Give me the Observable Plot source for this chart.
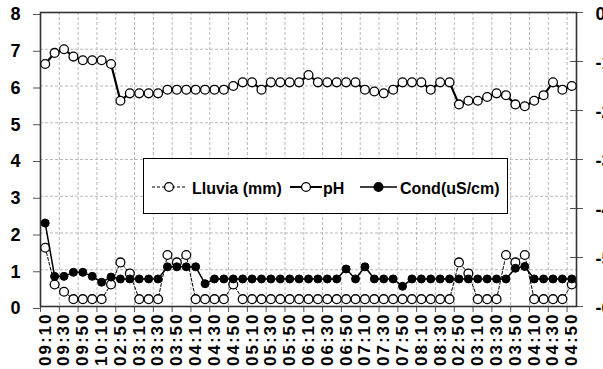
<!DOCTYPE html>
<html>
<head>
<meta charset="utf-8">
<script src="https://cdn.jsdelivr.net/npm/d3@7"></script>
<script src="https://cdn.jsdelivr.net/npm/@observablehq/plot@0.6"></script>
<style>
  html, body { margin: 0; padding: 0; background: #fff; }
  #chart { position: relative; width: 603px; height: 369px; overflow: hidden; }
  #chart svg { display: block; }
  #legend { position: absolute; left: 143px; top: 158px; }
</style>
</head>
<body>
<div id="chart"></div>
<script>
// Sampling times (10-minute readings, two separate rain events)
const times = ["09:10","09:20","09:30","09:40","09:50","10:00","10:10","10:20",
  "02:50","03:00","03:10","03:20","03:30","03:40","03:50","04:00","04:10","04:20",
  "04:30","04:40","04:50","05:00","05:10","05:20","05:30","05:40","05:50","06:00",
  "06:10","06:20","06:30","06:40","06:50","07:00","07:10","07:20","07:30","07:40",
  "07:50","08:00","08:10","08:20","08:30","08:40",
  "02:50","03:00","03:10","03:20","03:30","03:40","03:50","04:00","04:10","04:20",
  "04:30","04:40","04:50"];

// Rainfall (mm)
const lluvia = [1.6,0.6,0.4,0.2,0.2,0.2,0.2,0.6,1.2,0.9,0.2,0.2,0.2,1.4,1.2,1.4,0.2,0.2,
  0.2,0.2,0.6,0.2,0.2,0.2,0.2,0.2,0.2,0.2,0.2,0.2,0.2,0.2,0.2,0.2,0.2,0.2,0.2,0.2,
  0.2,0.2,0.2,0.2,0.2,0.2,1.2,0.9,0.2,0.2,0.2,1.4,1.2,1.4,0.2,0.2,0.2,0.2,0.6];

// pH
const ph = [6.6,6.9,7.0,6.8,6.7,6.7,6.7,6.6,5.6,5.8,5.8,5.8,5.8,5.9,5.9,5.9,5.9,5.9,
  5.9,5.9,6.0,6.1,6.1,5.9,6.1,6.1,6.1,6.1,6.3,6.1,6.1,6.1,6.1,6.1,5.9,5.85,5.8,5.9,
  6.1,6.1,6.1,5.9,6.1,6.1,5.5,5.6,5.6,5.7,5.8,5.75,5.5,5.45,5.6,5.75,6.1,5.9,6.0];

// Conductivity (uS/cm)
const cond = [2.27,0.82,0.82,0.93,0.93,0.82,0.66,0.8,0.75,0.75,0.75,0.75,0.75,1.08,1.08,
  1.08,1.08,0.62,0.75,0.75,0.75,0.75,0.75,0.75,0.75,0.75,0.75,0.75,0.75,0.75,0.75,0.75,
  1.02,0.75,1.08,0.75,0.75,0.75,0.55,0.75,0.75,0.75,0.75,0.75,0.75,0.75,0.75,0.75,0.75,
  0.75,1.04,1.09,0.75,0.75,0.75,0.75,0.75];

// Axis tick values
const yTicks = [0,1,2,3,4,5,6,7,8];
const rightTicks = [0,-1,-2,-3,-4,-5,-6];

const rows = times.map((t, i) => ({i, t, lluvia: lluvia[i], ph: ph[i], cond: cond[i]}));
const n = times.length;

// Category boundaries every two readings, labels on every other reading
const boundaries = d3.range(-0.5, n - 0.5, 2);
const labelIdx = d3.range(0, n, 2);

// Secondary (right) axis spans the same frame: 0 at the top, -6 at the bottom
const rightToLeft = r => 8 + r * (8 / 6);
const rightPos = rightTicks.map(rightToLeft);

const width = 603, height = 369;
const mL = 40, mR = 27, mT = 12, mB = 63;
const font = "'Liberation Sans', Arial, sans-serif";
const gridStyle = {stroke: "#b8b8b8", strokeOpacity: 1, strokeDasharray: "3,2"};

const chart = Plot.plot({
  width, height,
  marginLeft: mL, marginRight: mR, marginTop: mT, marginBottom: mB,
  style: {fontFamily: font, fontWeight: "bold", background: "white", color: "black", overflow: "visible"},
  x: {domain: [-0.5, n - 0.5], axis: null, label: null},
  y: {domain: [0, 8], axis: null, label: null},
  marks: [
    Plot.gridY(yTicks.slice(1, -1), gridStyle),
    Plot.gridX(boundaries.slice(1), gridStyle),
    // left axis
    Plot.axisY(yTicks, {anchor: "left", label: null, tickSize: 7, tickPadding: 13, fontSize: 18, dy: 2,
      stroke: "#555", fill: "black", tickFormat: d => String(d)}),
    // right axis (labels run past the edge)
    Plot.ruleY(rightPos, {stroke: "#555", insetLeft: width - mL - mR - 6, insetRight: -7}),
    Plot.axisY(rightPos, {anchor: "right", label: null, tickSize: 0, tickPadding: 19, fontSize: 18, dy: 2,
      fill: "black", textAnchor: "start",
      tickFormat: d => String(Math.round((d - 8) * 6 / 8))}),
    // bottom ticks and rotated time labels
    Plot.axisX(boundaries, {anchor: "bottom", label: null, tickSize: 6, stroke: "#555", tickFormat: () => ""}),
    Plot.axisX(labelIdx, {anchor: "bottom", label: null, tickSize: 0, tickPadding: 6, tickRotate: -90,
      fontSize: 17, fill: "black", tickFormat: i => times[i]}),
    Plot.frame({stroke: "#333", strokeWidth: 1.6}),
    // Lluvia
    Plot.line(rows, {x: "i", y: "lluvia", stroke: "black", strokeWidth: 1, strokeDasharray: "3,2"}),
    Plot.dot(rows, {x: "i", y: "lluvia", r: 4.4, fill: "white", stroke: "black", strokeWidth: 1.3}),
    // pH
    Plot.line(rows, {x: "i", y: "ph", stroke: "black", strokeWidth: 2.2}),
    Plot.dot(rows, {x: "i", y: "ph", r: 4.4, fill: "white", stroke: "black", strokeWidth: 1.3}),
    // Conductivity
    Plot.line(rows, {x: "i", y: "cond", stroke: "black", strokeWidth: 1.5}),
    Plot.dot(rows, {x: "i", y: "cond", r: 4, fill: "black", stroke: "black", strokeWidth: 1})
  ]
});

d3.select(chart).selectAll("[aria-label='x-axis tick label'] text")
  .attr("letter-spacing", "2px");

const holder = document.getElementById("chart");
holder.appendChild(chart);

// Legend box drawn over the plot area
const legendItems = [
  {label: "Lluvia (mm)", dash: "3,2", lineW: 1, fill: "white", x0: 9, x1: 43, tx: 49},
  {label: "pH", dash: null, lineW: 2, fill: "white", x0: 147, x1: 179, tx: 180},
  {label: "Cond(uS/cm)", dash: null, lineW: 1.5, fill: "black", x0: 217, x1: 254, tx: 257}
];
const lg = d3.select(holder).append("svg").attr("id", "legend")
  .attr("width", 366).attr("height", 57);
lg.append("rect").attr("x", 0.5).attr("y", 0.5).attr("width", 364).attr("height", 55)
  .attr("fill", "white").attr("stroke", "black").attr("stroke-width", 1);
const it = lg.selectAll("g.item").data(legendItems).join("g").attr("class", "item");
it.append("line").attr("x1", d => d.x0).attr("x2", d => d.x1).attr("y1", 29).attr("y2", 29)
  .attr("stroke", "black").attr("stroke-width", d => d.lineW)
  .attr("stroke-dasharray", d => d.dash);
it.append("circle").attr("cx", d => (d.x0 + d.x1) / 2).attr("cy", 29).attr("r", 4.4)
  .attr("fill", d => d.fill).attr("stroke", "black").attr("stroke-width", 1.3);
it.append("text").attr("x", d => d.tx).attr("y", 36).text(d => d.label)
  .attr("font-family", font).attr("font-weight", "bold").attr("font-size", 16);
</script>
</body>
</html>
